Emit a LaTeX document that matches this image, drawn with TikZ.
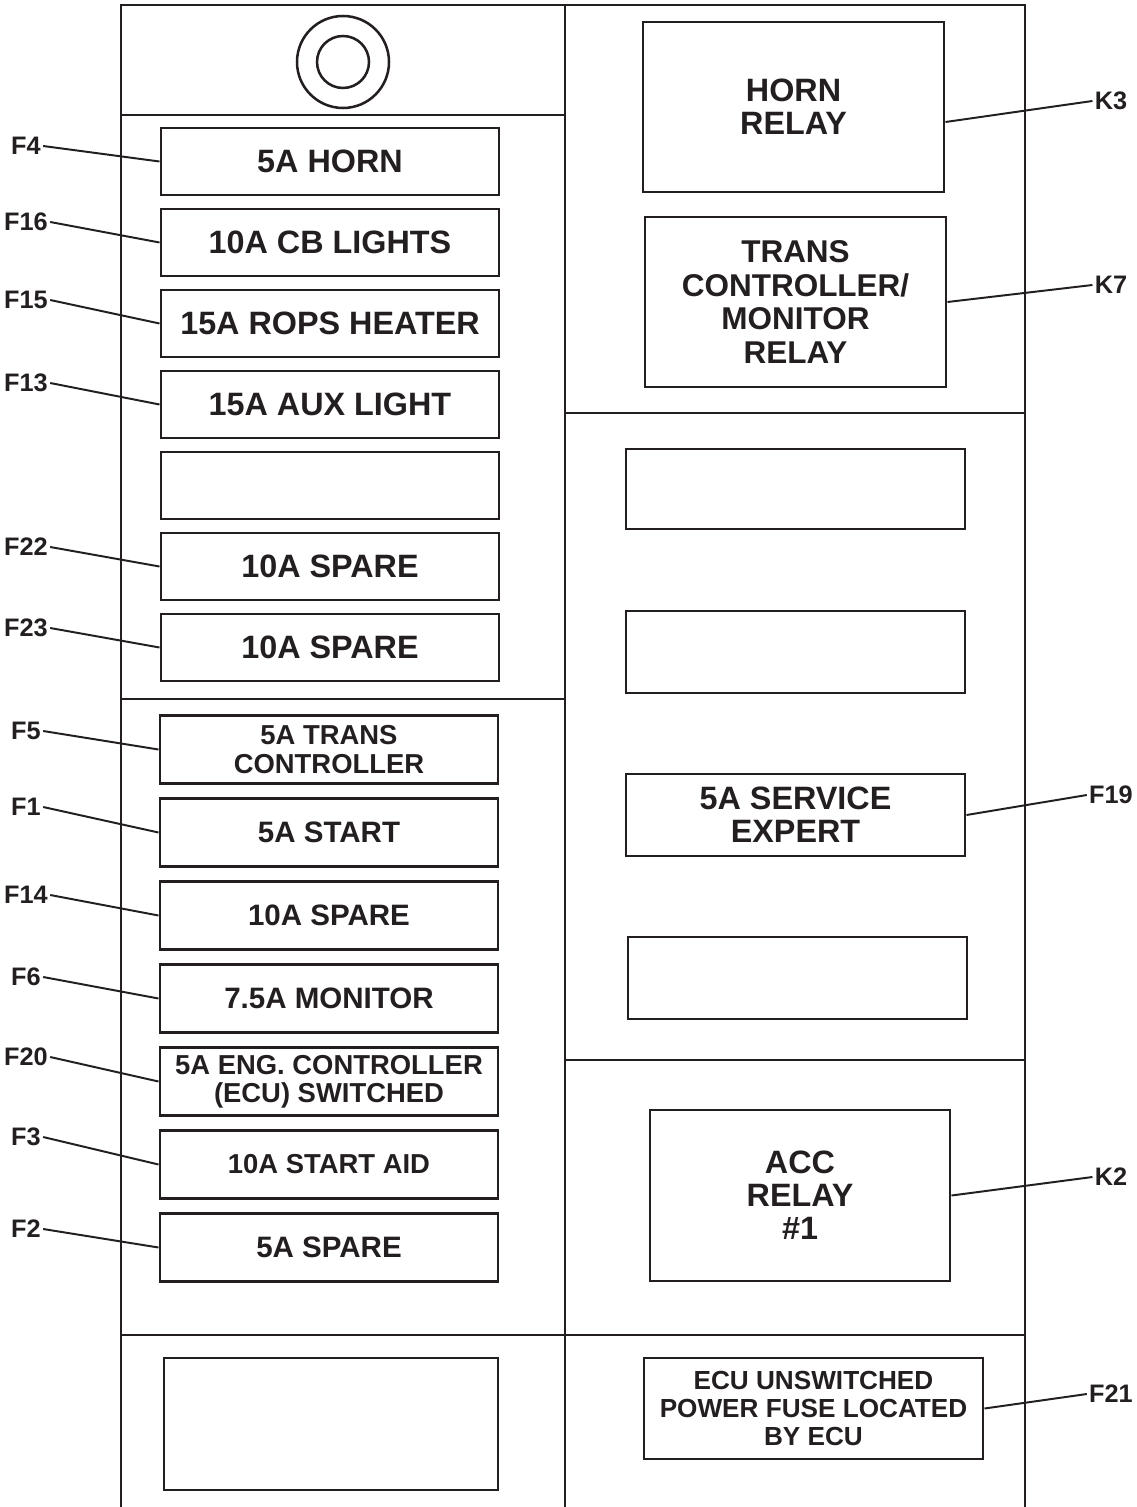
\documentclass[tikz,border=0pt]{standalone}
\usepackage{fontspec}
\setmainfont{Liberation Sans}
\usepackage{xcolor}
\usepackage{tikz}
\definecolor{fbink}{RGB}{35,31,32}
\tikzset{
  fbline/.style={draw=fbink, line width=2.1pt},
  fbfuse/.style={fbline, minimum width=8.45cm, minimum height=1.675cm, inner sep=0pt,
    align=center, text=fbink, font=\fontsize{23}{23.5}\selectfont\bfseries},
  fblow/.style={fbfuse, minimum height=1.7cm, font=\fontsize{21}{20}\selectfont\bfseries},
  fbtiny/.style={fbfuse, minimum height=1.7cm, font=\fontsize{19.5}{20}\selectfont\bfseries},
  fbrelay/.style={fbfuse, minimum width=7.525cm, minimum height=4.25cm},
  fbtag/.style={inner sep=1.5pt, text=fbink, font=\fontsize{18}{18}\selectfont\bfseries},
  fbleader/.style={draw=fbink, line width=1.4pt}
}

\begin{document}
\begin{tikzpicture}
  \useasboundingbox (0cm,0cm) rectangle (28.4cm,-37.675cm);
  \draw[fbline] (3.025cm,-37.675cm) -- (3.025cm,-0.125cm) -- (25.625cm,-0.125cm) -- (25.625cm,-37.675cm);
  \draw[fbline] (14.125cm,-0.125cm) -- (14.125cm,-37.675cm);
  \draw[fbline] (3.025cm,-2.875cm) -- (14.125cm,-2.875cm);
  \draw[fbline] (3.025cm,-17.475cm) -- (14.125cm,-17.475cm);
  \draw[fbline] (14.125cm,-10.325cm) -- (25.625cm,-10.325cm);
  \draw[fbline] (14.125cm,-26.5cm) -- (25.625cm,-26.5cm);
  \draw[fbline] (3.025cm,-33.375cm) -- (25.625cm,-33.375cm);
  \draw[fbline, line width=1.8pt] (8.575cm,-1.55cm) circle (1.15cm) (8.575cm,-1.55cm) circle (0.65cm);
  \node[fbfuse] (bF4) at (8.25cm,-4.0375cm) {5A HORN};
  \node[fbfuse] (bF16) at (8.25cm,-6.0625cm) {10A CB LIGHTS};
  \node[fbfuse] (bF15) at (8.25cm,-8.0875cm) {15A ROPS HEATER};
  \node[fbfuse] (bF13) at (8.25cm,-10.1125cm) {15A AUX LIGHT};
  \node[fbfuse] (bX1) at (8.25cm,-12.1375cm) {};
  \node[fbfuse] (bF22) at (8.25cm,-14.1625cm) {10A SPARE};
  \node[fbfuse] (bF23) at (8.25cm,-16.1875cm) {10A SPARE};
  \node[fbtiny] (bF5) at (8.225cm,-18.7375cm) {5A TRANS\\CONTROLLER};
  \node[fblow] (bF1) at (8.225cm,-20.8125cm) {5A START};
  \node[fblow] (bF14) at (8.225cm,-22.8875cm) {10A SPARE};
  \node[fblow] (bF6) at (8.225cm,-24.9625cm) {7.5A MONITOR};
  \node[fbtiny] (bF20) at (8.225cm,-27.0375cm) {5A ENG. CONTROLLER\\(ECU) SWITCHED};
  \node[fbtiny] (bF3) at (8.225cm,-29.1125cm) {10A START AID};
  \node[fblow] (bF2) at (8.225cm,-31.1875cm) {5A SPARE};
  \node[fbfuse, minimum width=8.35cm, minimum height=3.3cm] (bX2) at (8.275cm,-35.6cm) {};
  \node[fbrelay] (bK3) at (19.8375cm,-2.675cm) {HORN\\RELAY};
  \node[fbrelay, font=\fontsize{22.4}{24}\selectfont\bfseries] (bK7) at (19.8875cm,-7.55cm) {TRANS\\CONTROLLER/\\MONITOR\\RELAY};
  \node[fbfuse, minimum width=8.475cm, minimum height=2.0cm] (bX3) at (19.8875cm,-12.225cm) {};
  \node[fbfuse, minimum width=8.475cm, minimum height=2.05cm] (bX4) at (19.8875cm,-16.3cm) {};
  \node[fbfuse, minimum width=8.475cm, minimum height=2.05cm] (bF19) at (19.8875cm,-20.375cm) {5A SERVICE\\EXPERT};
  \node[fbfuse, minimum width=8.475cm, minimum height=2.05cm] (bX5) at (19.9375cm,-24.45cm) {};
  \node[fbrelay, minimum width=7.5cm, minimum height=4.275cm] (bK2) at (20.0cm,-29.8875cm) {ACC\\RELAY\\\#1};
  \node[fbfuse, minimum width=8.475cm, minimum height=2.525cm, font=\fontsize{18.6}{19.9}\selectfont\bfseries] (bF21) at (20.3375cm,-35.2125cm) {ECU UNSWITCHED\\POWER FUSE LOCATED\\BY ECU};
  \node[fbtag] (tF4) at (0.65cm,-3.65cm) {F4};
  \node[fbtag] (tF16) at (0.65cm,-5.55cm) {F16};
  \node[fbtag] (tF15) at (0.65cm,-7.5cm) {F15};
  \node[fbtag] (tF13) at (0.65cm,-9.575cm) {F13};
  \node[fbtag] (tF22) at (0.65cm,-13.675cm) {F22};
  \node[fbtag] (tF23) at (0.65cm,-15.7cm) {F23};
  \node[fbtag] (tF5) at (0.65cm,-18.275cm) {F5};
  \node[fbtag] (tF1) at (0.65cm,-20.175cm) {F1};
  \node[fbtag] (tF14) at (0.65cm,-22.375cm) {F14};
  \node[fbtag] (tF6) at (0.65cm,-24.425cm) {F6};
  \node[fbtag] (tF20) at (0.65cm,-26.425cm) {F20};
  \node[fbtag] (tF3) at (0.65cm,-28.425cm) {F3};
  \node[fbtag] (tF2) at (0.65cm,-30.725cm) {F2};
  \node[fbtag] (tK3) at (27.775cm,-2.525cm) {K3};
  \node[fbtag] (tK7) at (27.775cm,-7.125cm) {K7};
  \node[fbtag] (tF19) at (27.775cm,-19.875cm) {F19};
  \node[fbtag] (tK2) at (27.775cm,-29.425cm) {K2};
  \node[fbtag] (tF21) at (27.775cm,-34.85cm) {F21};
  \draw[fbleader] (tF4.east) -- (bF4.west);
  \draw[fbleader] (tF16.east) -- (bF16.west);
  \draw[fbleader] (tF15.east) -- (bF15.west);
  \draw[fbleader] (tF13.east) -- (bF13.west);
  \draw[fbleader] (tF22.east) -- (bF22.west);
  \draw[fbleader] (tF23.east) -- (bF23.west);
  \draw[fbleader] (tF5.east) -- (bF5.west);
  \draw[fbleader] (tF1.east) -- (bF1.west);
  \draw[fbleader] (tF14.east) -- (bF14.west);
  \draw[fbleader] (tF6.east) -- (bF6.west);
  \draw[fbleader] (tF20.east) -- (bF20.west);
  \draw[fbleader] (tF3.east) -- (bF3.west);
  \draw[fbleader] (tF2.east) -- (bF2.west);
  \draw[fbleader] ([yshift=-0.375cm]bK3.east) -- (tK3.west);
  \draw[fbleader] (bK7.east) -- (tK7.west);
  \draw[fbleader] (bF19.east) -- (tF19.west);
  \draw[fbleader] (bK2.east) -- (tK2.west);
  \draw[fbleader] (bF21.east) -- (tF21.west);
\end{tikzpicture}
\end{document}
